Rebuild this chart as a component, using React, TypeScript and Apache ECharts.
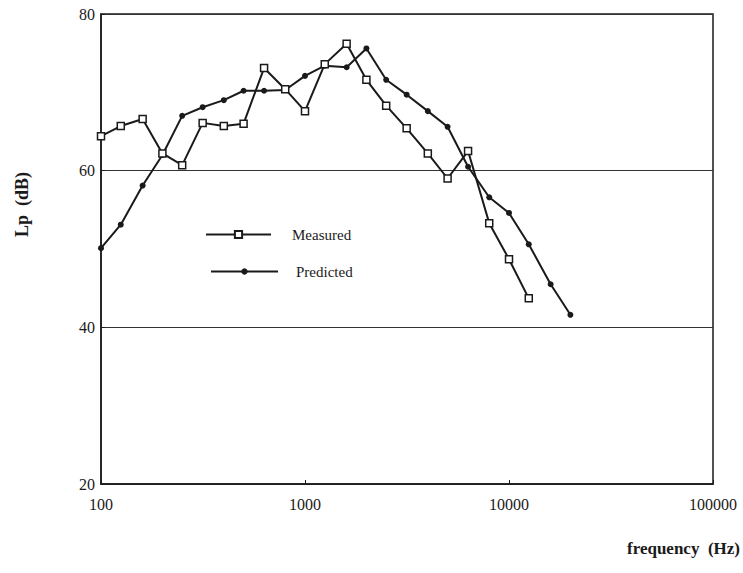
import React, { useEffect, useRef } from "react";
import * as echarts from "echarts";

const measuredFreqs = [100, 125, 160, 200, 250, 315, 400, 500, 630, 800, 1000, 1250, 1600, 2000, 2500, 3150, 4000, 5000, 6300, 8000, 10000, 12500];
const measuredValues = [64.4, 65.7, 66.6, 62.2, 60.7, 66.1, 65.7, 66.0, 73.1, 70.4, 67.6, 73.6, 76.2, 71.6, 68.3, 65.4, 62.2, 59.0, 62.5, 53.3, 48.7, 43.7];

const predictedFreqs = [100, 125, 160, 200, 250, 315, 400, 500, 630, 800, 1000, 1250, 1600, 2000, 2500, 3150, 4000, 5000, 6300, 8000, 10000, 12500, 16000, 20000];
const predictedValues = [50.1, 53.1, 58.1, 62.0, 67.0, 68.1, 69.0, 70.2, 70.2, 70.3, 72.1, 73.4, 73.2, 75.6, 71.6, 69.7, 67.6, 65.6, 60.5, 56.6, 54.6, 50.6, 45.5, 41.6];

const xTicks = [100, 1000, 10000, 100000];
const yTicks = [20, 40, 60, 80];

const FONT = "'Liberation Serif', 'DejaVu Serif', serif";
const INK = "#1a1a1a";

export default function App() {
  const ref = useRef<HTMLDivElement>(null);

  useEffect(() => {
    if (!ref.current) return;
    const chart = echarts.init(ref.current, undefined, { renderer: "svg" });
    const measured = measuredFreqs.map((f, i) => [f, measuredValues[i]]);
    const predicted = predictedFreqs.map((f, i) => [f, predictedValues[i]]);
    chart.setOption({
      animation: false,
      backgroundColor: "#ffffff",
      grid: {
        left: 101,
        right: 30,
        top: 14,
        bottom: 89,
        show: true,
        borderColor: INK,
        borderWidth: 1.5,
        containLabel: false,
      },
      xAxis: {
        type: "log",
        logBase: 10,
        min: xTicks[0],
        max: xTicks[xTicks.length - 1],
        axisLine: { show: true, lineStyle: { color: INK, width: 1.5 } },
        axisTick: { show: true, inside: true, length: 4, lineStyle: { color: INK } },
        axisLabel: {
          margin: 12,
          fontFamily: FONT,
          fontSize: 16,
          color: INK,
          formatter: (v: number) => String(Math.round(v)),
        },
        splitLine: { show: false },
      },
      yAxis: {
        type: "value",
        min: yTicks[0],
        max: yTicks[yTicks.length - 1],
        interval: 20,
        axisLine: { show: true, lineStyle: { color: INK, width: 1.5 } },
        axisTick: { show: true, inside: true, length: 4, lineStyle: { color: INK } },
        axisLabel: {
          margin: 6,
          fontFamily: FONT,
          fontSize: 16,
          color: INK,
        },
        splitLine: { show: true, lineStyle: { color: "#333", width: 1 } },
      },
      legend: [
        {
          data: ["Measured"],
          left: 200,
          top: 228 - 6,
          itemWidth: 65,
          itemHeight: 9,
          textStyle: { fontFamily: FONT, fontSize: 15, color: INK, padding: [0, 0, 0, 16] },
        },
        {
          data: ["Predicted"],
          left: 205,
          top: 259,
          itemWidth: 67,
          itemHeight: 8,
          textStyle: { fontFamily: FONT, fontSize: 15, color: INK, padding: [0, 0, 0, 13] },
        },
      ],
      graphic: [
        {
          type: "text",
          left: 13,
          top: 172,
          rotation: Math.PI / 2,
          style: {
            text: "Lp  (dB)",
            font: `bold 18px ${FONT}`,
            fill: INK,
          },
        },
        {
          type: "text",
          right: 3,
          top: 540,
          style: {
            text: "frequency  (Hz)",
            font: `bold 17px ${FONT}`,
            fill: INK,
          },
        },
      ],
      series: [
        {
          name: "Measured",
          type: "line",
          data: measured,
          symbol: "rect",
          symbolSize: 7,
          itemStyle: { color: "#ffffff", borderColor: INK, borderWidth: 1.5 },
          lineStyle: { color: INK, width: 2 },
          z: 3,
        },
        {
          name: "Predicted",
          type: "line",
          data: predicted,
          symbol: "circle",
          symbolSize: 6,
          itemStyle: { color: INK },
          lineStyle: { color: INK, width: 2 },
          z: 2,
        },
      ],
    });
    return () => chart.dispose();
  }, []);

  return (
    <div
      ref={ref}
      style={{ position: "fixed", left: 0, top: 0, width: 743, height: 573, background: "#fff" }}
    />
  );
}
